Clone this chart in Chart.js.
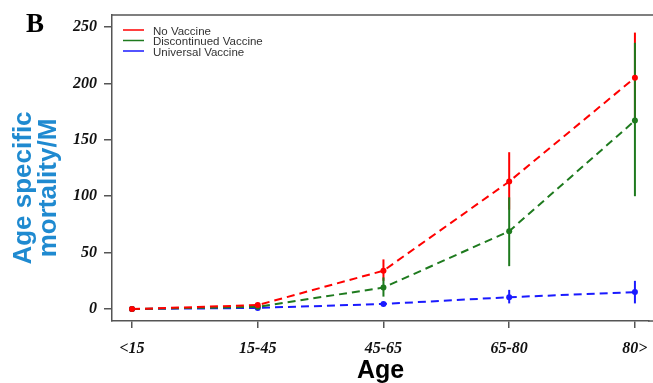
<!DOCTYPE html>
<html>
<head>
<meta charset="utf-8">
<script src="https://cdn.jsdelivr.net/npm/chart.js@4"></script>
<style>
    body { margin: 0; background: #fff; }
    #wrap { position: relative; width: 653px; height: 383px; }
    #panel { position: absolute; left: 26px; top: 8px; font: bold 27px "Liberation Serif", serif; color: #000; }
</style>
</head>
<body>
<div id="wrap">
    <canvas id="chart" width="653" height="383"></canvas>
    <div id="panel">B</div>
</div>
<script>
// Дані
const categories = ["<15", "15-45", "45-65", "65-80", "80>"];
const yTicks = [0, 50, 100, 150, 200, 250];

const noVaccine     = [0, 3.5, 34, 113, 205];
const noVaccineLow  = [0, 3.5, 25, 88, 165];
const noVaccineHigh = [0, 3.5, 44, 139, 245];

const discontinued     = [0, 2, 19, 69, 167];
const discontinuedLow  = [0, 2, 11, 38, 100];
const discontinuedHigh = [0, 2, 28, 99, 236];

const universal     = [0, 1, 4.5, 10.5, 15];
const universalLow  = [0, 1, 3.5, 5, 5];
const universalHigh = [0, 1, 5.5, 17, 25];

const series = [
    { label: "No Vaccine", color: "#ff0000", values: noVaccine, low: noVaccineLow, high: noVaccineHigh },
    { label: "Discontinued Vaccine", color: "#1e7a1e", values: discontinued, low: discontinuedLow, high: discontinuedHigh },
    { label: "Universal Vaccine", color: "#1a1aff", values: universal, low: universalLow, high: universalHigh }
];

const axisColor = "#555";
const tickFont = { family: "'Liberation Serif', serif", size: 16, weight: "bold", style: "italic" };

// === ПЛАГІН: рамка, похибки, легенда, підпис осі Y ===
const extras = {
    id: "extras",
    beforeDatasetsDraw(chart) {
        const ctx = chart.ctx;
        const x = chart.scales.x, y = chart.scales.y;

        // похибки (під лініями й точками)
        ctx.save();
        ctx.lineWidth = 2;
        series.forEach(s => {
            ctx.strokeStyle = s.color;
            s.values.forEach((v, i) => {
                if (s.low[i] === s.high[i]) return;
                const px = x.getPixelForValue(i);
                ctx.beginPath();
                ctx.moveTo(px, y.getPixelForValue(s.low[i]));
                ctx.lineTo(px, y.getPixelForValue(s.high[i]));
                ctx.stroke();
            });
        });
        ctx.restore();
    },
    afterDatasetsDraw(chart) {
        const ctx = chart.ctx;
        const area = chart.chartArea;

        // верхня межа + нижня вісь до краю
        ctx.save();
        ctx.strokeStyle = axisColor;
        ctx.lineWidth = 1.5;
        ctx.beginPath();
        ctx.moveTo(area.left, area.top);
        ctx.lineTo(chart.width, area.top);
        ctx.moveTo(area.right - 1, area.bottom);
        ctx.lineTo(chart.width, area.bottom);
        ctx.stroke();

        // легенда
        ctx.font = "11.5px 'Liberation Sans', Arial, sans-serif";
        ctx.textBaseline = "middle";
        series.forEach((s, k) => {
            const ly = 30 + k * 10.5;
            ctx.strokeStyle = s.color;
            ctx.lineWidth = 1.5;
            ctx.beginPath();
            ctx.moveTo(123, ly);
            ctx.lineTo(144, ly);
            ctx.stroke();
            ctx.fillStyle = "#333";
            ctx.fillText(s.label, 153, ly + 1.5);
        });

        // підпис осі Y
        ctx.translate(0, 188);
        ctx.rotate(-Math.PI / 2);
        ctx.fillStyle = "#1f8ad0";
        ctx.font = "bold 26px 'Liberation Sans', Arial, sans-serif";
        ctx.textAlign = "center";
        ctx.fillText("Age specific", 0, 24);
        ctx.fillText("mortality/M", 0, 49);
        ctx.restore();
    }
};

new Chart(document.getElementById("chart"), {
    type: "line",
    data: {
        datasets: series.map(s => ({
            label: s.label,
            data: s.values.map((v, i) => ({ x: i, y: v })),
            borderColor: s.color,
            backgroundColor: s.color,
            borderWidth: 2,
            borderDash: [8, 5],
            pointRadius: 3,
            pointBorderWidth: 0,
            fill: false,
            tension: 0
        }))
    },
    options: {
        responsive: false,
        devicePixelRatio: 1,
        animation: false,
        layout: { padding: { top: 15, left: 0, right: 0, bottom: 0 } },
        plugins: { legend: { display: false }, tooltip: { enabled: false } },
        scales: {
            x: {
                type: "linear",
                min: -0.159,
                max: 4.112,
                afterFit: s => { s.height = 62; s.paddingLeft = 0; s.paddingRight = 0; },
                afterBuildTicks: s => { s.ticks = categories.map((c, i) => ({ value: i })); },
                ticks: {
                    callback: v => categories[v],
                    font: tickFont,
                    color: "#111",
                    padding: 11,
                    maxRotation: 0
                },
                grid: { drawOnChartArea: false, tickLength: 7, color: axisColor, lineWidth: 1.5 },
                border: { color: axisColor, width: 1.5 },
                title: {
                    display: true,
                    text: "Age",
                    color: "#000",
                    font: { family: "'Liberation Sans', Arial, sans-serif", size: 25, weight: "bold", lineHeight: 1 },
                    padding: { top: 0, bottom: -1 }
                }
            },
            y: {
                min: -10.6,
                max: 260.6,
                afterFit: s => { s.width = 112; s.paddingTop = 0; s.paddingBottom = 0; },
                afterBuildTicks: s => { s.ticks = yTicks.map(v => ({ value: v })); },
                ticks: {
                    font: tickFont,
                    color: "#111",
                    padding: 7
                },
                grid: { drawOnChartArea: false, tickLength: 8, color: axisColor, lineWidth: 1.5 },
                border: { color: axisColor, width: 1.5 }
            }
        }
    },
    plugins: [extras]
});
</script>
</body>
</html>
